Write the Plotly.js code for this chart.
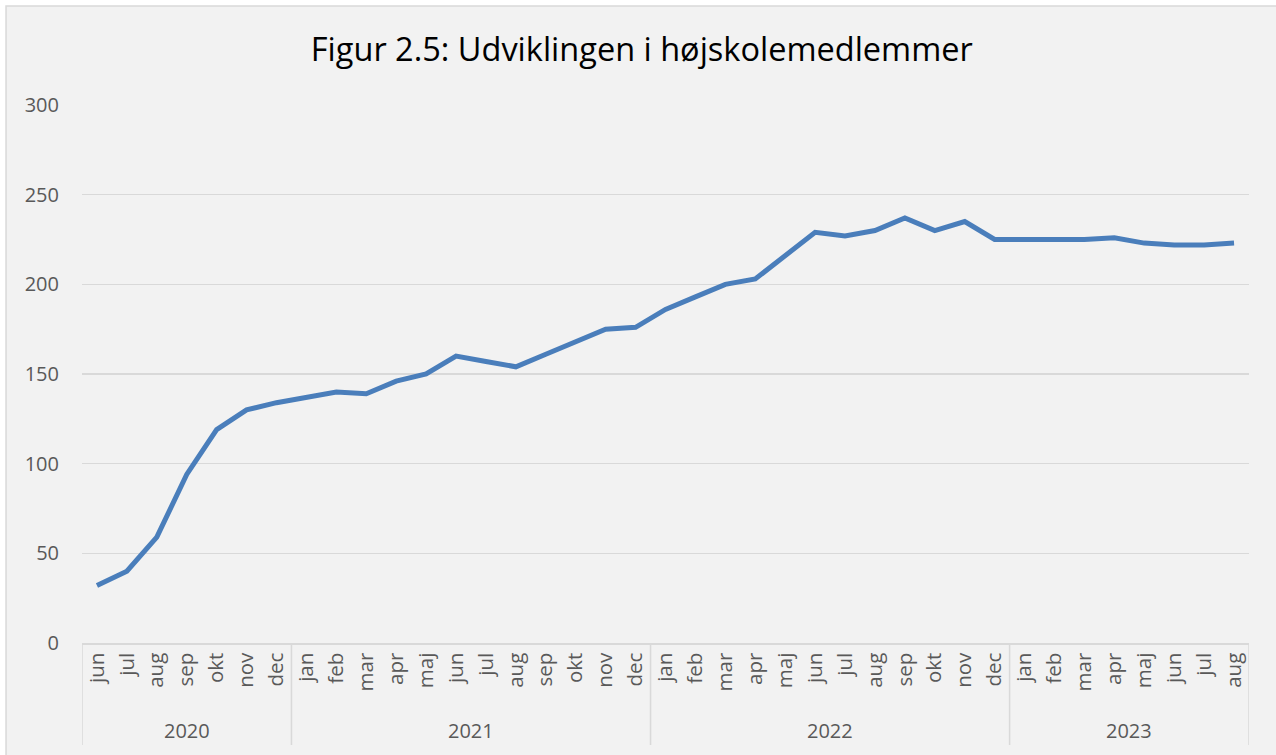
<!DOCTYPE html>
<html>
<head>
<meta charset="utf-8">
<script src="https://cdn.plot.ly/plotly-3.0.1.min.js"></script>
<style>html,body{margin:0;padding:0;background:#ffffff;}#chart{width:1276px;height:755px;}</style>
</head>
<body>
<div id="chart"></div>
<script>
const years = ["2020","2020","2020","2020","2020","2020","2020",
  "2021","2021","2021","2021","2021","2021","2021","2021","2021","2021","2021","2021",
  "2022","2022","2022","2022","2022","2022","2022","2022","2022","2022","2022","2022",
  "2023","2023","2023","2023","2023","2023","2023","2023"];
const months = ["jun","jul","aug","sep","okt","nov","dec",
  "jan","feb","mar","apr","maj","jun","jul","aug","sep","okt","nov","dec",
  "jan","feb","mar","apr","maj","jun","jul","aug","sep","okt","nov","dec",
  "jan","feb","mar","apr","maj","jun","jul","aug"];
const members = [32,40,59,94,119,130,134,
  137,140,139,146,150,160,157,154,161,168,175,176,
  186,193,200,203,216,229,227,230,237,230,235,225,
  225,225,225,226,223,222,222,223];
const yTicks = [0,50,100,150,200,250,300];

const idx = months.map((m, i) => i);

// group years into spans (derived from the arrays)
const groups = [];
years.forEach((y, i) => {
  if (!groups.length || groups[groups.length - 1].year !== y) groups.push({year: y, start: i, end: i});
  else groups[groups.length - 1].end = i;
});

const gridc = '#d9d9d9';
const shapes = [{
  type: 'rect', xref: 'paper', yref: 'paper', layer: 'below',
  x0: -0.0651, x1: 1.05, y0: -0.30, y1: 1.184,
  line: {color: gridc, width: 1.5}, fillcolor: '#f2f2f2'
}];
const bounds = [groups[0].start - 0.5].concat(groups.map(g => g.end + 0.5));
bounds.forEach(b => shapes.push({
  type: 'line', xref: 'x', yref: 'paper', x0: b, x1: b, y0: 0, y1: -0.1896,
  line: {color: gridc, width: 1.5}
}));
const annotations = groups.map(g => ({
  xref: 'x', yref: 'paper', x: (g.start + g.end) / 2, y: -0.162,
  text: g.year, showarrow: false, xanchor: 'center', yanchor: 'middle',
  font: {family: 'Open Sans, sans-serif', size: 20, color: '#595959'}
}));

const trace = {
  x: idx,
  y: members,
  type: 'scatter',
  mode: 'lines',
  line: {color: '#4a7ebb', width: 5},
  hoverinfo: 'skip'
};

const layout = {
  width: 1276, height: 755,
  paper_bgcolor: '#ffffff',
  plot_bgcolor: '#f2f2f2',
  margin: {l: 82, r: 27, t: 105, b: 112},
  showlegend: false,
  font: {family: 'Open Sans, sans-serif', color: '#595959'},
  title: {
    text: 'Figur 2.5: Udviklingen i højskolemedlemmer',
    font: {family: 'Open Sans, sans-serif', size: 32.5, color: '#000000'},
    x: 0.503, xref: 'container', xanchor: 'center', y: 0.934, yanchor: 'middle'
  },
  xaxis: {
    type: 'linear',
    range: [-0.5, months.length - 0.5],
    tickvals: idx,
    ticktext: months,
    tickangle: -90,
    automargin: false,
    tickfont: {size: 20.5, color: '#595959'},
    showline: true, linecolor: gridc, linewidth: 1.5,
    showgrid: false, ticks: '', zeroline: false
  },
  yaxis: {
    range: [0, 300],
    tickvals: yTicks,
    automargin: false,
    tickfont: {size: 20, color: '#595959'},
    showgrid: true, gridcolor: gridc, gridwidth: 1.5,
    zeroline: false, showline: false, ticks: '',
    ticklabelstandoff: 22
  },
  shapes: shapes,
  annotations: annotations
};

Plotly.newPlot('chart', [trace], layout, {displayModeBar: false, staticPlot: true});
</script>
</body>
</html>
